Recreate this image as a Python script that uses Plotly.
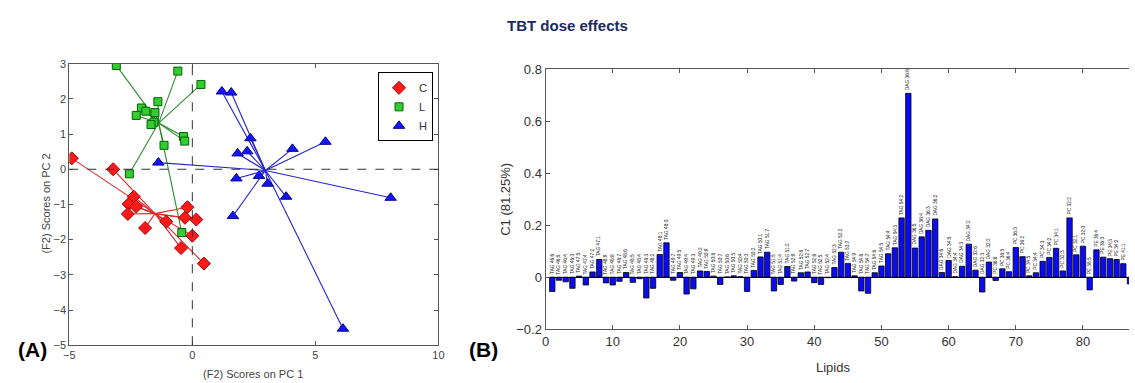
import plotly.graph_objects as go

# ---------------- Panel A data (PCA scores) ----------------
c_x = [-4.90, -3.22, -2.38, -2.59, -2.28, -2.62, -0.20, -0.30, 0.16, -1.06, -1.92, 0.00, -0.46, 0.47]
c_y = [0.31, 0.00, -0.78, -0.99, -1.06, -1.27, -1.08, -1.38, -1.43, -1.49, -1.67, -1.89, -2.24, -2.68]

l_x = [-3.09, -0.59, 0.35, -1.40, -2.07, -1.89, -1.52, -2.28, -1.56, -1.68, -0.36, -0.31, -1.15, -2.56, -0.43]
l_y = [2.95, 2.79, 2.41, 1.92, 1.74, 1.65, 1.61, 1.53, 1.34, 1.27, 0.93, 0.80, 0.68, -0.13, -1.80]

h_x = [1.20, 1.58, 2.36, 5.41, 4.07, 2.23, 1.84, -1.38, 1.79, 2.71, 3.06, 3.81, 8.06, 1.65, 6.12]
h_y = [2.21, 2.18, 0.88, 0.78, 0.58, 0.51, 0.45, 0.19, -0.26, -0.19, -0.41, -0.78, -0.81, -1.33, -4.53]

group_names = ["C", "L", "H"]

# ---------------- Panel B data (loadings) ----------------
lipid_labels = [
    "TAG 46:6", "TAG 46:5", "TAG 46:4", "TAG 46:3", "TAG 47:5", "TAG 47:4", "TAG 47:2", "TAG 47:1",
    "TAG 48:9", "TAG 48:8", "TAG 48:7", "TAG 48:6", "TAG 48:5", "TAG 48:4", "TAG 48:3", "TAG 48:2",
    "TAG 48:1", "TAG 48:0", "TAG 49:7", "TAG 49:5", "TAG 49:4", "TAG 49:3", "TAG 49:2", "TAG 50:9",
    "TAG 50:8", "TAG 50:7", "TAG 50:6", "TAG 50:5", "TAG 50:4", "TAG 50:3", "TAG 50:2", "TAG 50:1",
    "TAG 51:7", "TAG 51:5", "TAG 51:4", "TAG 51:2", "TAG 52:9", "TAG 52:8", "TAG 52:7", "TAG 52:6",
    "TAG 52:5", "TAG 52:4", "TAG 52:3", "TAG 52:2", "TAG 53:7", "TAG 54:9", "TAG 54:8", "TAG 54:7",
    "TAG 54:6", "TAG 54:5", "TAG 54:4", "TAG 54:3", "TAG 54:2", "DAG 36:6", "DAG 36:5", "DAG 36:4",
    "DAG 36:3", "DAG 36:2", "DAG 34:6", "DAG 34:5", "DAG 34:4", "DAG 34:3", "DAG 34:2", "DAG 32:6",
    "DAG 32:3", "DAG 32:2", "PC 36:6", "PC 36:5", "PC 36:4", "PC 36:3", "PC 36:2", "PC 34:5",
    "PC 34:4", "PC 34:3", "PC 34:2", "PC 34:1", "PC 32:3", "PC 32:2", "PC 32:1", "PC 32:0",
    "PE 38:5", "PE 36:4", "PE 36:3", "PE 34:3", "PE 34:2", "PE 41:1", "PE 40:6",
]
lipid_values = [
    -0.055, -0.012, -0.018, -0.043, 0.004, -0.030, 0.020, 0.068,
    -0.022, -0.030, -0.016, 0.018, -0.020, -0.006, -0.080, -0.043,
    0.087, 0.132, -0.012, 0.018, -0.065, -0.045, 0.024, 0.022,
    0.004, -0.028, 0.001, 0.005, 0.002, -0.055, 0.026, 0.078,
    0.096, -0.053, -0.028, 0.041, -0.015, 0.017, 0.020, -0.021,
    -0.028, -0.002, 0.037, 0.096, 0.053, 0.005, -0.053, -0.062,
    0.017, 0.043, 0.090, 0.113, 0.228, 0.707, 0.112, 0.155,
    0.180, 0.224, 0.018, 0.064, 0.002, 0.042, 0.127, 0.027,
    -0.057, 0.058, -0.013, 0.032, 0.021, 0.114, 0.079, 0.005,
    0.017, 0.061, 0.076, 0.111, 0.024, 0.228, 0.086, 0.119,
    -0.049, 0.105, 0.077, 0.071, 0.068, 0.052, -0.026,
]
lipid_index = list(range(1, len(lipid_values) + 1))

FONT = "Arial, Liberation Sans, sans-serif"
W, H = 1135, 383

fig = go.Figure()

styles = {
    "C": dict(symbol="diamond", fill="#FF1A1A", edge="#A00000", line="#E02828", size=10),
    "L": dict(symbol="square", fill="#33CC33", edge="#006400", line="#2E8B2E", size=8),
    "H": dict(symbol="triangle-up", fill="#1414FF", edge="#00008B", line="#2626D0", size=10),
}
groups = {"C": (c_x, c_y), "L": (l_x, l_y), "H": (h_x, h_y)}

for name in group_names:
    xs, ys = groups[name]
    st = styles[name]
    cx = sum(xs) / len(xs)
    cy = sum(ys) / len(ys)
    lx, ly = [], []
    for x, y in zip(xs, ys):
        lx += [cx, x, None]
        ly += [cy, y, None]
    fig.add_trace(go.Scatter(x=lx, y=ly, mode="lines", line=dict(color=st["line"], width=1.1),
                             showlegend=False, hoverinfo="skip", xaxis="x", yaxis="y"))
for name in group_names:
    xs, ys = groups[name]
    st = styles[name]
    fig.add_trace(go.Scatter(x=xs, y=ys, mode="markers", name=name,
                             marker=dict(symbol=st["symbol"], size=st["size"], color=st["fill"],
                                         line=dict(color=st["edge"], width=1)),
                             xaxis="x", yaxis="y"))

fig.add_trace(go.Bar(x=lipid_index, y=lipid_values, width=0.8,
                     marker=dict(color="#0A0AF5", line=dict(color="#000000", width=0.8)),
                     showlegend=False, xaxis="x2", yaxis="y2"))

# domains in paper fraction
ax_a = dict(x0=64 / W, x1=437 / W, y0=1 - 352 / H, y1=1 - 59 / H)
ax_b = dict(x0=545.3 / W, x1=1.0, y0=1 - 335.3 / H, y1=1 - 64.7 / H)

axis_common = dict(showgrid=False, zeroline=False, showline=True, linecolor="#555555", linewidth=1,
                   ticks="inside", ticklen=4, tickcolor="#555555")

fig.update_layout(
    width=W, height=H,
    margin=dict(l=0, r=0, t=0, b=0),
    paper_bgcolor="white", plot_bgcolor="white",
    font=dict(family=FONT, color="#333333"),
    showlegend=True,
    legend=dict(x=376 / W, y=1 - 68 / H, xanchor="left", yanchor="top",
                bgcolor="white", bordercolor="#000000", borderwidth=1,
                font=dict(size=11, color="#333333"), itemwidth=30, tracegroupgap=0),
    xaxis=dict(domain=[ax_a["x0"], ax_a["x1"]], range=[-5, 10], dtick=5, mirror="allticks",
               tickfont=dict(size=11, color="#444444"), anchor="y", **axis_common),
    yaxis=dict(domain=[ax_a["y0"], ax_a["y1"]], range=[-5, 3], dtick=1, mirror="allticks",
               tickfont=dict(size=11, color="#444444"), anchor="x", **axis_common),
    xaxis2=dict(domain=[ax_b["x0"], ax_b["x1"]], range=[0, 86.85], dtick=10, mirror="allticks",
                tickfont=dict(size=13, color="#333333"), anchor="y2", **axis_common),
    yaxis2=dict(domain=[ax_b["y0"], ax_b["y1"]], range=[-0.2, 0.8], dtick=0.2, tickformat="~g",
                tickfont=dict(size=13, color="#333333"), anchor="x2", **axis_common),
    bargap=0.2,
)
fig.update_yaxes(selector=dict(anchor="x2"), zeroline=True, zerolinecolor="#000000", zerolinewidth=1)

# dashed reference lines at 0 in panel A
fig.add_shape(type="line", xref="x", yref="y domain", x0=0, x1=0, y0=0, y1=1,
              line=dict(color="#333333", width=1, dash="dash"))
fig.add_shape(type="line", xref="x domain", yref="y", x0=0, x1=1, y0=0, y1=0,
              line=dict(color="#333333", width=1, dash="dash"))

# bar labels
for i, (lab, v) in enumerate(zip(lipid_labels, lipid_values)):
    fig.add_annotation(x=lipid_index[i], y=max(v, 0), xref="x2", yref="y2", text=lab,
                       textangle=-90, showarrow=False, xanchor="center", yanchor="bottom",
                       yshift=1, font=dict(size=4.8, color="#222222", family=FONT))


def label(x, y, text, size, color, angle=0):
    fig.add_annotation(x=x / W, y=1 - y / H, xref="paper", yref="paper", text=text,
                       textangle=angle, showarrow=False, xanchor="center", yanchor="middle",
                       font=dict(size=size, color=color, family=FONT))


label(567, 19, "<b>TBT dose effects</b>", 15, "#1B2A5E")
label(250, 382, "(F2) Scores on PC 1", 11, "#444444")
label(40, 205, "(F2) Scores on PC 2", 11, "#444444", -90)
label(27, 356, "<b>(A)</b>", 21, "#000000")
label(483, 356, "<b>(B)</b>", 21, "#000000")
label(505, 200, "C1 (81.25%)", 13, "#333333", -90)
label(836, 375, "Lipids", 13, "#333333")

fig.write_html("out.html")
